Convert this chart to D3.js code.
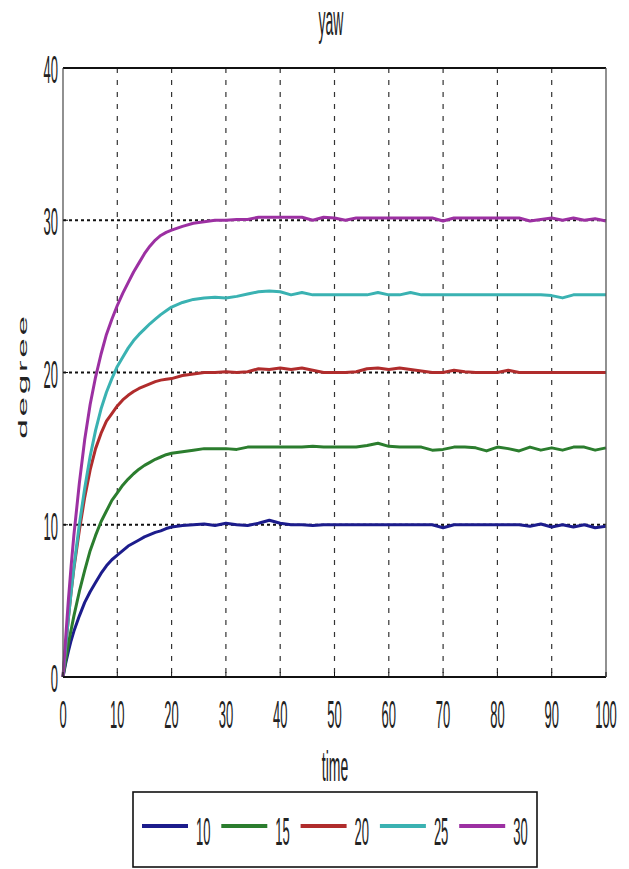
<!DOCTYPE html>
<html>
<head>
<meta charset="utf-8">
<script src="https://d3js.org/d3.v7.min.js"></script>
<style>
  body { margin: 0; background: #fff; }
  text { font-family: Arial, "Liberation Sans", sans-serif; fill: #222; }
</style>
</head>
<body>
<script>
// sample times (same for every series)
var time = [0, 0.5, 1, 1.5, 2, 3, 4, 5, 6, 7, 8, 9, 10, 11, 12, 13, 14, 15, 16, 17, 18, 19, 20,
  22, 24, 26, 28, 30, 32, 34, 36, 38, 40, 42, 44, 46, 48, 50, 52, 54, 56, 58, 60, 62, 64, 66, 68,
  70, 72, 74, 76, 78, 80, 82, 84, 86, 88, 90, 92, 94, 96, 98, 100];

var yaw10 = [0, 0.9, 1.7, 2.4, 3.0, 4.0, 4.9, 5.6, 6.2, 6.8, 7.3, 7.7, 8.0, 8.3, 8.6, 8.8, 9.0, 9.2, 9.35, 9.5, 9.6, 9.75, 9.85,
  9.95, 10.0, 10.05, 9.95, 10.1, 10.0, 9.95, 10.1, 10.3, 10.1, 10.0, 10.0, 9.95, 10.0, 10.0, 10.0, 10.0, 10.0, 10.0, 10.0, 10.0, 10.0, 10.0, 10.0,
  9.8, 10.0, 10.0, 10.0, 10.0, 10.0, 10.0, 10.0, 9.9, 10.05, 9.85, 10.0, 9.85, 10.0, 9.8, 9.9];

var yaw15 = [0, 1.1, 2.2, 3.1, 4.0, 5.6, 7.0, 8.3, 9.3, 10.2, 10.9, 11.6, 12.1, 12.6, 13.0, 13.35, 13.65, 13.9, 14.1, 14.3, 14.45, 14.6, 14.7,
  14.8, 14.9, 15.0, 15.0, 15.0, 14.95, 15.1, 15.1, 15.1, 15.1, 15.1, 15.1, 15.15, 15.1, 15.1, 15.1, 15.1, 15.2, 15.35, 15.15, 15.1, 15.1, 15.1, 14.9,
  14.95, 15.1, 15.1, 15.05, 14.85, 15.1, 15.0, 14.85, 15.1, 14.9, 15.05, 14.9, 15.1, 15.1, 14.9, 15.05];

var yaw20 = [0, 2.0, 3.9, 5.6, 7.1, 9.6, 11.8, 13.6, 15.0, 16.0, 16.8, 17.3, 17.8, 18.2, 18.5, 18.75, 18.95, 19.1, 19.25, 19.4, 19.5, 19.55, 19.6,
  19.8, 19.9, 20.0, 20.0, 20.05, 20.0, 20.05, 20.25, 20.2, 20.3, 20.2, 20.3, 20.15, 20.0, 20.0, 20.0, 20.05, 20.25, 20.3, 20.2, 20.3, 20.2, 20.1, 20.0,
  20.0, 20.15, 20.05, 20.0, 20.0, 20.0, 20.15, 20.0, 20.0, 20.0, 20.0, 20.0, 20.0, 20.0, 20.0, 20.0];

var yaw25 = [0, 2.0, 3.9, 5.6, 7.2, 10.0, 12.4, 14.5, 16.2, 17.6, 18.7, 19.6, 20.4, 21.0, 21.6, 22.1, 22.5, 22.85, 23.2, 23.5, 23.8, 24.05, 24.3,
  24.6, 24.8, 24.9, 24.95, 24.9, 25.0, 25.15, 25.3, 25.35, 25.3, 25.1, 25.25, 25.1, 25.1, 25.1, 25.1, 25.1, 25.1, 25.25, 25.1, 25.1, 25.25, 25.1, 25.1,
  25.1, 25.1, 25.1, 25.1, 25.1, 25.1, 25.1, 25.1, 25.1, 25.1, 25.05, 24.9, 25.1, 25.1, 25.1, 25.1];

var yaw30 = [0, 2.6, 5.1, 7.3, 9.3, 12.7, 15.6, 17.9, 19.7, 21.2, 22.5, 23.5, 24.4, 25.2, 25.9, 26.6, 27.2, 27.8, 28.3, 28.7, 29.0, 29.2, 29.35,
  29.6, 29.8, 29.9, 30.0, 30.0, 30.05, 30.05, 30.2, 30.2, 30.2, 30.2, 30.2, 30.0, 30.2, 30.15, 30.0, 30.15, 30.15, 30.15, 30.15, 30.15, 30.15, 30.15, 30.15,
  29.95, 30.15, 30.15, 30.15, 30.15, 30.15, 30.15, 30.15, 29.95, 30.05, 30.15, 30.0, 30.15, 30.0, 30.1, 29.95];

var seriesNames = ["10", "15", "20", "25", "30"];
var seriesValues = [yaw10, yaw15, yaw20, yaw25, yaw30];
var seriesColors = ["#1c1c8c", "#2b7d2e", "#b02c2c", "#3ab2b2", "#9c30a2"];

var xTicks = [0, 10, 20, 30, 40, 50, 60, 70, 80, 90, 100];
var yTicks = [0, 10, 20, 30, 40];

var width = 629, height = 869;
var plotLeft = 63, plotRight = 606, plotTop = 68, plotBottom = 677;
var stretch = 3; // the picture's glyphs are tall and narrow

var svg = d3.select("body").append("svg")
    .attr("width", width)
    .attr("height", height);

var x = d3.scaleLinear().domain([0, 100]).range([plotLeft, plotRight]);
var y = d3.scaleLinear().domain([0, 40]).range([plotBottom, plotTop]);

// tall text helper (px, py = baseline position on screen)
function tallText(px, py, str, anchor, size) {
  svg.append("text")
    .attr("transform", "translate(" + px + "," + py + ") scale(1," + stretch + ")")
    .attr("text-anchor", anchor)
    .style("font-size", size + "px")
    .text(str);
}

// grid
svg.append("g").selectAll("line")
    .data(xTicks.slice(1, -1))
    .enter().append("line")
    .attr("x1", function (d) { return x(d); })
    .attr("x2", function (d) { return x(d); })
    .attr("y1", plotTop)
    .attr("y2", plotBottom)
    .attr("stroke", "#333")
    .attr("stroke-width", 1.2)
    .attr("stroke-dasharray", "5,7");

svg.append("g").selectAll("line")
    .data(yTicks.slice(1, -1))
    .enter().append("line")
    .attr("x1", plotLeft)
    .attr("x2", plotRight)
    .attr("y1", function (d) { return y(d); })
    .attr("y2", function (d) { return y(d); })
    .attr("stroke", "#111")
    .attr("stroke-width", 1.8)
    .attr("stroke-dasharray", "3,3");

// curves
var line = d3.line()
    .x(function (d, i) { return x(time[i]); })
    .y(function (d) { return y(d); });

svg.append("g").selectAll("path")
    .data(seriesValues)
    .enter().append("path")
    .attr("d", line)
    .attr("fill", "none")
    .attr("stroke", function (d, i) { return seriesColors[i]; })
    .attr("stroke-width", 3)
    .attr("stroke-linejoin", "round");

// box + inward ticks
svg.append("line").attr("x1", plotLeft).attr("x2", plotRight).attr("y1", plotTop).attr("y2", plotTop)
    .attr("stroke", "#111").attr("stroke-width", 2);
svg.append("line").attr("x1", plotLeft).attr("x2", plotRight).attr("y1", plotBottom).attr("y2", plotBottom)
    .attr("stroke", "#111").attr("stroke-width", 2);
svg.append("line").attr("x1", plotLeft).attr("x2", plotLeft).attr("y1", plotTop).attr("y2", plotBottom)
    .attr("stroke", "#555").attr("stroke-width", 1.3);
svg.append("line").attr("x1", plotRight).attr("x2", plotRight).attr("y1", plotTop).attr("y2", plotBottom)
    .attr("stroke", "#555").attr("stroke-width", 1.3);

svg.append("g").selectAll("line")
    .data(xTicks)
    .enter().append("line")
    .attr("x1", function (d) { return x(d); })
    .attr("x2", function (d) { return x(d); })
    .attr("y1", plotBottom)
    .attr("y2", plotBottom - 5)
    .attr("stroke", "#111");

svg.append("g").selectAll("line")
    .data(yTicks)
    .enter().append("line")
    .attr("x1", plotLeft)
    .attr("x2", plotLeft + 5)
    .attr("y1", function (d) { return y(d); })
    .attr("y2", function (d) { return y(d); })
    .attr("stroke", "#111");

// tick labels
xTicks.forEach(function (d) { tallText(x(d), 728, d, "middle", 13); });
yTicks.forEach(function (d) { tallText(plotLeft - 5, y(d) + 15, d, "end", 13); });

// titles
tallText(331, 35, "yaw", "middle", 14);
tallText(335, 781, "time", "middle", 14);

svg.append("text")
    .attr("transform", "translate(27,376) scale(1," + stretch * 0.9 + ") rotate(-90)")
    .attr("text-anchor", "middle")
    .style("font-size", "13px")
    .style("letter-spacing", "1px")
    .text("degree");

// legend
var legend = svg.append("g");
legend.append("rect")
    .attr("x", 133).attr("y", 792)
    .attr("width", 404).attr("height", 75)
    .attr("fill", "#fff")
    .attr("stroke", "#111")
    .attr("stroke-width", 1.6);

seriesNames.forEach(function (name, i) {
  var lx = 142 + i * 79.3;
  legend.append("line")
    .attr("x1", lx).attr("x2", lx + 46)
    .attr("y1", 826).attr("y2", 826)
    .attr("stroke", seriesColors[i])
    .attr("stroke-width", 4);
  tallText(lx + 54, 845, name, "start", 13);
});
</script>
</body>
</html>
